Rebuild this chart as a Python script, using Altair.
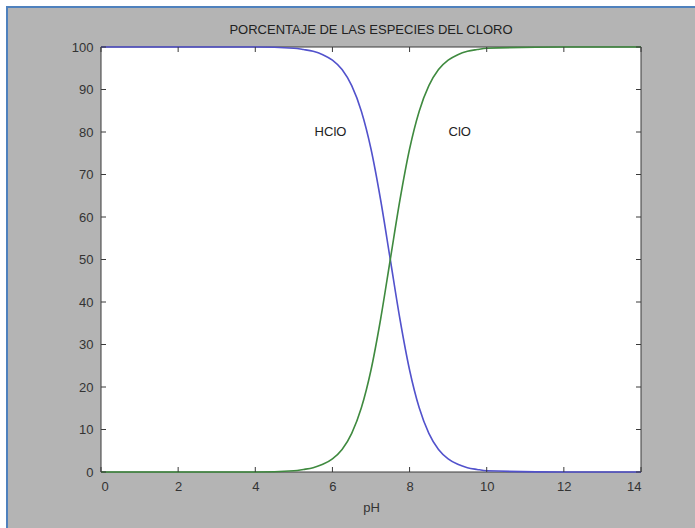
import altair as alt
import pandas as pd

# pH values and read-off percentages
ph = [0, 4, 5, 5.25, 5.5, 5.75, 6, 6.25, 6.5, 6.75, 7, 7.25, 7.5, 7.75, 8, 8.25, 8.5, 8.75, 9, 9.25, 9.5, 9.75, 10, 12, 14]
hclo = [100, 100, 99.7, 99.4, 99.0, 98.2, 96.9, 94.7, 90.9, 84.9, 76.0, 64.0, 50.0, 36.0, 24.0, 15.1, 9.1, 5.3, 3.1, 1.8, 1.0, 0.6, 0.3, 0, 0]
clo = [0, 0, 0.3, 0.6, 1.0, 1.8, 3.1, 5.3, 9.1, 15.1, 24.0, 36.0, 50.0, 64.0, 76.0, 84.9, 90.9, 94.7, 96.9, 98.2, 99.0, 99.4, 99.7, 100, 100]

label_text = ["HClO", "ClO"]
label_x = [5.95, 9.3]
label_y = [80, 80]

title_text = ["PORCENTAJE DE LAS ESPECIES DEL CLORO"]

x_ticks = [0, 2, 4, 6, 8, 10, 12, 14]
y_ticks = [0, 10, 20, 30, 40, 50, 60, 70, 80, 90, 100]

W, H = 540, 425
FONT = "Liberation Sans"

df = pd.DataFrame({"ph": ph * 2, "pct": hclo + clo,
                   "species": ["HClO"] * len(ph) + ["ClO"] * len(ph)})
lab = pd.DataFrame({"t": label_text, "x": label_x, "y": label_y})
ttl = pd.DataFrame({"t": title_text})
xt = pd.DataFrame({"v": x_ticks})
yt = pd.DataFrame({"v": y_ticks})
one = pd.DataFrame({"a": [0]})

xs = alt.Scale(domain=[0, 14], nice=False)
ys = alt.Scale(domain=[0, 100], nice=False)

bg = alt.Chart(one).mark_rect(fill="#b4b4b4", stroke="#4f81bd", strokeWidth=2).encode(
    x=alt.value(-94), x2=alt.value(620), y=alt.value(-40), y2=alt.value(500))
plot_bg = alt.Chart(one).mark_rect(fill="white", stroke="#3a3a3a", strokeWidth=1).encode(
    x=alt.value(0), x2=alt.value(W), y=alt.value(0), y2=alt.value(H))

lines = alt.Chart(df).mark_line(strokeWidth=1.6, interpolate="monotone").encode(
    x=alt.X("ph:Q", scale=xs,
            axis=alt.Axis(title="pH", values=x_ticks, tickSize=0, domain=False, grid=False,
                          labelPadding=8, titlePadding=8, zindex=1)),
    y=alt.Y("pct:Q", scale=ys,
            axis=alt.Axis(title=None, values=y_ticks, tickSize=0, domain=False, grid=False,
                          labelPadding=8, zindex=1)),
    color=alt.Color("species:N", scale=alt.Scale(domain=["HClO", "ClO"], range=["#5252cc", "#3f8a3f"]),
                    legend=None),
)

tick_col = "#3a3a3a"
xb = alt.Chart(xt).mark_rule(color=tick_col).encode(x=alt.X("v:Q", scale=xs), y=alt.value(H), y2=alt.value(H - 5))
xtop = alt.Chart(xt).mark_rule(color=tick_col).encode(x=alt.X("v:Q", scale=xs), y=alt.value(0), y2=alt.value(5))
yl = alt.Chart(yt).mark_rule(color=tick_col).encode(y=alt.Y("v:Q", scale=ys), x=alt.value(0), x2=alt.value(5))
yr = alt.Chart(yt).mark_rule(color=tick_col).encode(y=alt.Y("v:Q", scale=ys), x=alt.value(W), x2=alt.value(W - 5))

texts = alt.Chart(lab).mark_text(font=FONT, fontSize=13, color="#222222").encode(
    x=alt.X("x:Q", scale=xs), y=alt.Y("y:Q", scale=ys), text="t:N")

title = alt.Chart(ttl).mark_text(font=FONT, fontSize=13, color="#222222", baseline="middle").encode(
    x=alt.value(W / 2), y=alt.value(-17), text="t:N")

chart = alt.layer(bg, plot_bg, lines, xb, xtop, yl, yr, texts, title).properties(
    width=W, height=H,
    autosize=alt.AutoSizeParams(type="none"),
    padding={"left": 101, "top": 47, "right": 54, "bottom": 56},
).configure(background="white").configure_view(stroke=None).configure_axis(
    labelFont=FONT, labelFontSize=13, labelColor="#333333",
    titleFont=FONT, titleFontSize=13, titleFontWeight="normal", titleColor="#333333",
)

chart.save("out.html", embed_options={"renderer": "svg", "actions": False})
